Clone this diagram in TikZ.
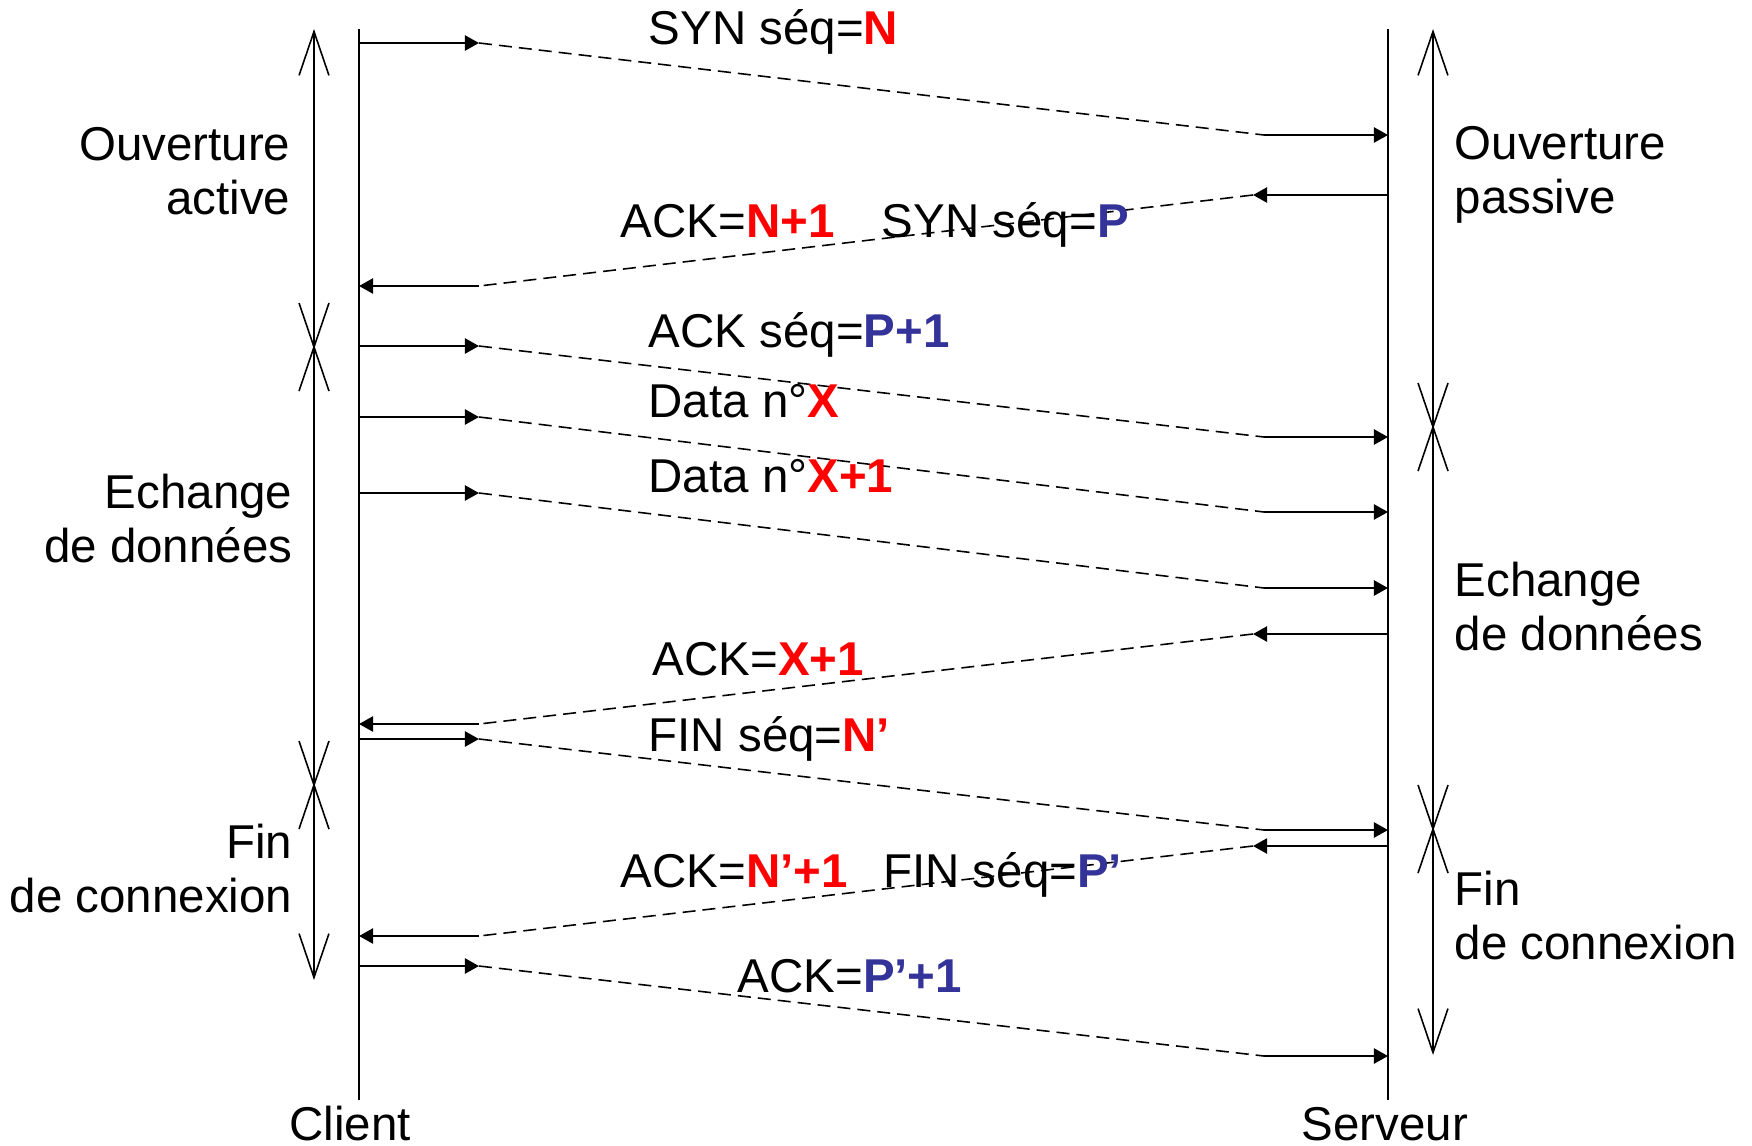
\documentclass[tikz,border=0pt]{standalone}
\usepackage{fontspec}
\setmainfont{Liberation Sans}
\usetikzlibrary{arrows.meta}
\definecolor{seqred}{RGB}{255,0,0}
\definecolor{seqblue}{RGB}{51,51,153}
\newcommand{\rd}[1]{\textbf{\color{seqred}#1}}
\newcommand{\bl}[1]{\textbf{\color{seqblue}#1}}

\begin{document}
\begin{tikzpicture}[x=0.01cm, y=-0.01cm,
  font=\fontsize{13.5}{15.2}\selectfont,
  lifeline/.style={line width=0.6pt},
  msgarrow/.style={line width=0.6pt, -{Triangle[length=4pt,width=4.3pt]}},
  dashline/.style={line width=0.45pt, dash pattern=on 3.7pt off 2pt},
  phasearrow/.style={line width=0.45pt,
    {Straight Barb[length=12.5pt,width=8.5pt]}-{Straight Barb[length=12.5pt,width=8.5pt]}},
  phasecross/.style={line width=0.45pt},
  lbl/.style={anchor=base west, inner sep=0pt}]
\useasboundingbox (0,0) rectangle (1752,1145);

% the two hosts
\coordinate (client top) at (359,29);
\coordinate (client bot) at (359,1100);
\coordinate (server top) at (1388,29);
\coordinate (server bot) at (1388,1100);
\draw[lifeline] (client top) -- (client bot);
\draw[lifeline] (server top) -- (server bot);
\node[anchor=base] (client) at (350,1140) {Client};
\node[anchor=base] (server) at (1385,1140) {Serveur};

% phases, client side and server side
\coordinate (cp0) at (314,29);
\coordinate (cp1) at (314,347);
\coordinate (cp2) at (314,785);
\coordinate (cp3) at (314,980);
\coordinate (sp0) at (1433,29);
\coordinate (sp1) at (1433,427);
\coordinate (sp2) at (1433,829);
\coordinate (sp3) at (1433,1055);
\draw[phasearrow] (cp0) -- (cp3);
\draw[phasearrow] (sp0) -- (sp3);
\foreach \p in {cp1,cp2,sp1,sp2}{
  \draw[phasecross] ([shift={(-15,-44)}]\p) -- ([shift={(15,44)}]\p);
  \draw[phasecross] ([shift={(15,-44)}]\p) -- ([shift={(-15,44)}]\p);
}

\node[anchor=base east, align=right, inner sep=0pt] (open c) at (291,214) {Ouverture\\active};
\node[anchor=base east, align=right, inner sep=0pt] (data c) at (293,562) {Echange\\de données};
\node[anchor=base east, align=right, inner sep=0pt] (end c) at (293,912) {Fin\\de connexion};
\node[anchor=base west, align=left, inner sep=0pt] (open s) at (1454,213) {Ouverture\\passive};
\node[anchor=base west, align=left, inner sep=0pt] (data s) at (1454,650) {Echange\\de données};
\node[anchor=base west, align=left, inner sep=0pt] (end s) at (1454,959) {Fin\\de connexion};

% segments client -> serveur
\foreach \n/\cy/\sy in {syn/43/135,ackp/346/437,dx/417/512,dxx/493/588,fin/739/830,ackq/966/1056}{
  \coordinate (\n-c) at (359,\cy);
  \coordinate (\n-ck) at (479,\cy);
  \coordinate (\n-sk) at (1264,\sy);
  \coordinate (\n-s) at (1388,\sy);
  \draw[msgarrow] (\n-c) -- (\n-ck);
  \draw[dashline] (\n-ck) -- (\n-sk);
  \draw[msgarrow] (\n-sk) -- (\n-s);
}
% segments serveur -> client
\foreach \n/\sy/\cy in {synack/195/286,ackx/634/724,finack/846/936}{
  \coordinate (\n-s) at (1388,\sy);
  \coordinate (\n-sk) at (1253,\sy);
  \coordinate (\n-ck) at (479,\cy);
  \coordinate (\n-c) at (359,\cy);
  \draw[msgarrow] (\n-s) -- (\n-sk);
  \draw[dashline] (\n-sk) -- (\n-ck);
  \draw[msgarrow] (\n-ck) -- (\n-c);
}

\node[lbl] (syn) at (648,44) {SYN séq=\rd{N}};
\node[lbl] (synack) at (620,237) {ACK=\rd{N+1}\hspace{1em}SYN séq=\bl{P}};
\node[lbl] (ackp) at (648,347) {ACK séq=\bl{P+1}};
\node[lbl] (dx) at (648,417) {Data n°\rd{X}};
\node[lbl] (dxx) at (648,492) {Data n°\rd{X+1}};
\node[lbl] (ackx) at (652,675) {ACK=\rd{X+1}};
\node[lbl] (fin) at (648,751) {FIN séq=\rd{N’}};
\node[lbl] (finack) at (620,887) {ACK=\rd{N’+1}\hspace{0.75em}FIN séq=\bl{P’}};
\node[lbl] (ackq) at (737,992) {ACK=\bl{P’+1}};
\end{tikzpicture}
\end{document}
